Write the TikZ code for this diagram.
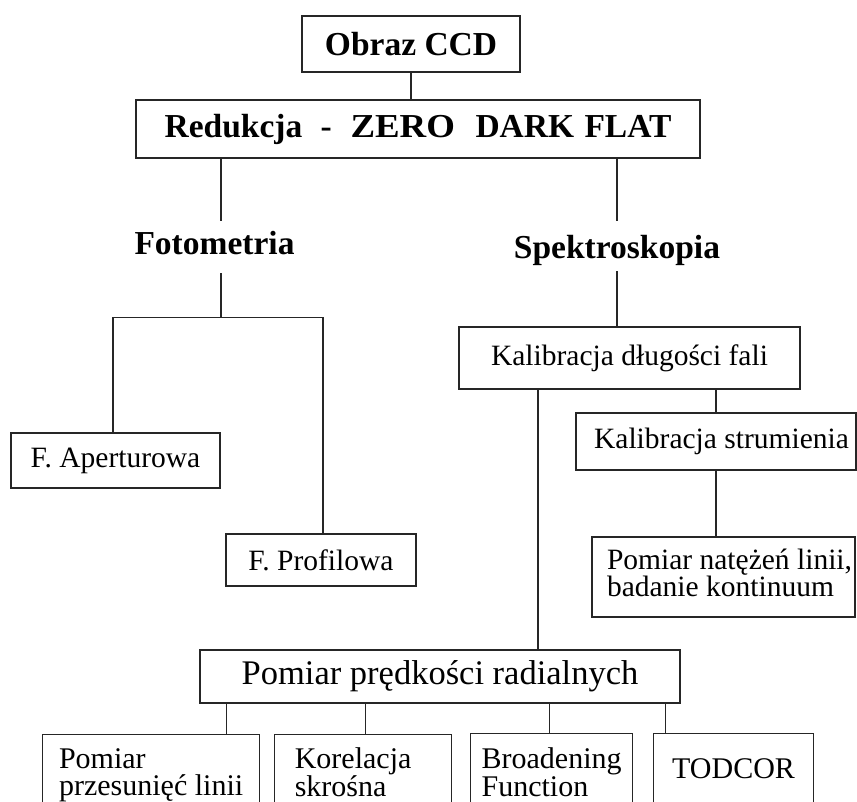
\documentclass[tikz,border=0pt]{standalone}
\usepackage{graphicx}
\usepackage{fontspec}
\setmainfont{Liberation Serif}
\newcommand\tightlines{\lineskiplimit-30pt\lineskip0pt\relax}
\begin{document}
\begin{tikzpicture}[x=1pt,y=-1pt,
  box/.style={draw=black!85, line width=1.2pt, inner sep=0pt, align=center},
  conn/.style={draw=black!85, line width=1.2pt},
  bt/.style={font=\fontsize{33.5pt}{36pt}\selectfont\bfseries},
  nt/.style={font=\fontsize{29.5pt}{27pt}\selectfont\tightlines},
  ntb/.style={font=\fontsize{30pt}{27.5pt}\selectfont\tightlines},
]
\useasboundingbox (0,0) rectangle (857,802);
\clip (0,0) rectangle (857,802);
\fill[white] (0,0) rectangle (857,802);

% boxes
\node[box,bt,minimum width=218pt,minimum height=56pt] (obraz) at (411,44) {Obraz CCD};
\node[box,bt,minimum width=564pt,minimum height=58pt] (red) at (418,129)
  {Redukcja\hspace{18.3pt}-\hspace{18.8pt}\scalebox{1.1}[1]{ZERO}\hspace{20.5pt}DARK\hspace{10.4pt}FLAT};

\node[bt,inner sep=0pt,text height=34pt,text depth=18pt,anchor=base] (foto) at (214.5,255) {Fotometria};
\node[bt,inner sep=0pt,text height=38pt,text depth=12pt,anchor=base] (spek) at (617,259) {Spektroskopia};

\node[box,nt,minimum width=341pt,minimum height=62pt] (kdf) at (629.5,358) {Kalibracja długości fali};
\node[box,nt,minimum width=280pt,minimum height=57pt] (ks) at (716,441.5) {\hspace*{11pt}Kalibracja strumienia};
\node[box,nt,align=left,minimum width=263pt,minimum height=80pt] (pn) at (723.5,577)
  {\hspace*{12pt}Pomiar natężeń linii,\\\hspace*{12pt}badanie kontinuum\strut};

\node[box,nt,minimum width=209pt,minimum height=55pt] (fa) at (115.5,460.5) {F. Aperturowa};
\node[box,nt,minimum width=190pt,minimum height=52pt] (fp) at (321,560) {F. Profilowa};

\node[box,font=\fontsize{34.5pt}{36pt}\selectfont,minimum width=480pt,minimum height=53pt] (pp) at (440,676.5)
  {Pomiar prędkości radialnych};

\node[box,ntb,align=left,anchor=north west,minimum width=217pt,minimum height=83pt] (b1) at (42,734)
  {Pomiar\\przesunięć linii\strut};
\node[box,ntb,align=left,anchor=north west,minimum width=177pt,minimum height=83pt] (b2) at (274,734)
  {Korelacja\hspace*{20pt}\\skrośna\strut};
\node[box,ntb,align=left,anchor=north west,minimum width=162pt,minimum height=85pt] (b3) at (470,733)
  {Broadening\\Function\strut};
\node[box,ntb,anchor=north west,minimum width=160pt,minimum height=78pt] (b4) at (653,733)
  {TODCOR\strut};

% connectors
\draw[conn] (obraz.south) -- (obraz.south |- red.north);

\coordinate (fo) at ([xshift=6.5pt]foto.north);
\draw[conn] (fo |- red.south) -- (fo);
\draw[conn] (spek.north |- red.south) -- (spek.north);

\coordinate (fs) at ([xshift=6.5pt]foto.south);
\path (fs) ++(0,44) coordinate (fj);
\coordinate (fal) at ([xshift=-2.5pt]fa.north);
\coordinate (fpl) at ([xshift=2pt]fp.north);
\draw[conn] (fs) -- (fj);
\draw[conn] (fal) |- (fj) -| (fpl);

\draw[conn] (spek.south) -- (spek.south |- kdf.north);
\coordinate (kp) at ([xshift=-91.5pt]kdf.south);
\draw[conn] (kp) -- (kp |- pp.north);
\draw[conn] (ks.north |- kdf.south) -- (ks.north);
\draw[conn] (ks.south) -- (ks.south |- pn.north);

\coordinate (c1) at ([xshift=27pt]pp.south west);
\coordinate (c2) at ([xshift=166pt]pp.south west);
\coordinate (c3) at ([xshift=350pt]pp.south west);
\coordinate (c4) at ([xshift=466pt]pp.south west);
\draw[conn] (c1) -- (c1 |- b1.north);
\draw[conn] (c2) -- (c2 |- b2.north);
\draw[conn] (c3) -- (c3 |- b3.north);
\draw[conn] (c4) -- (c4 |- b4.north);
\end{tikzpicture}
\end{document}
